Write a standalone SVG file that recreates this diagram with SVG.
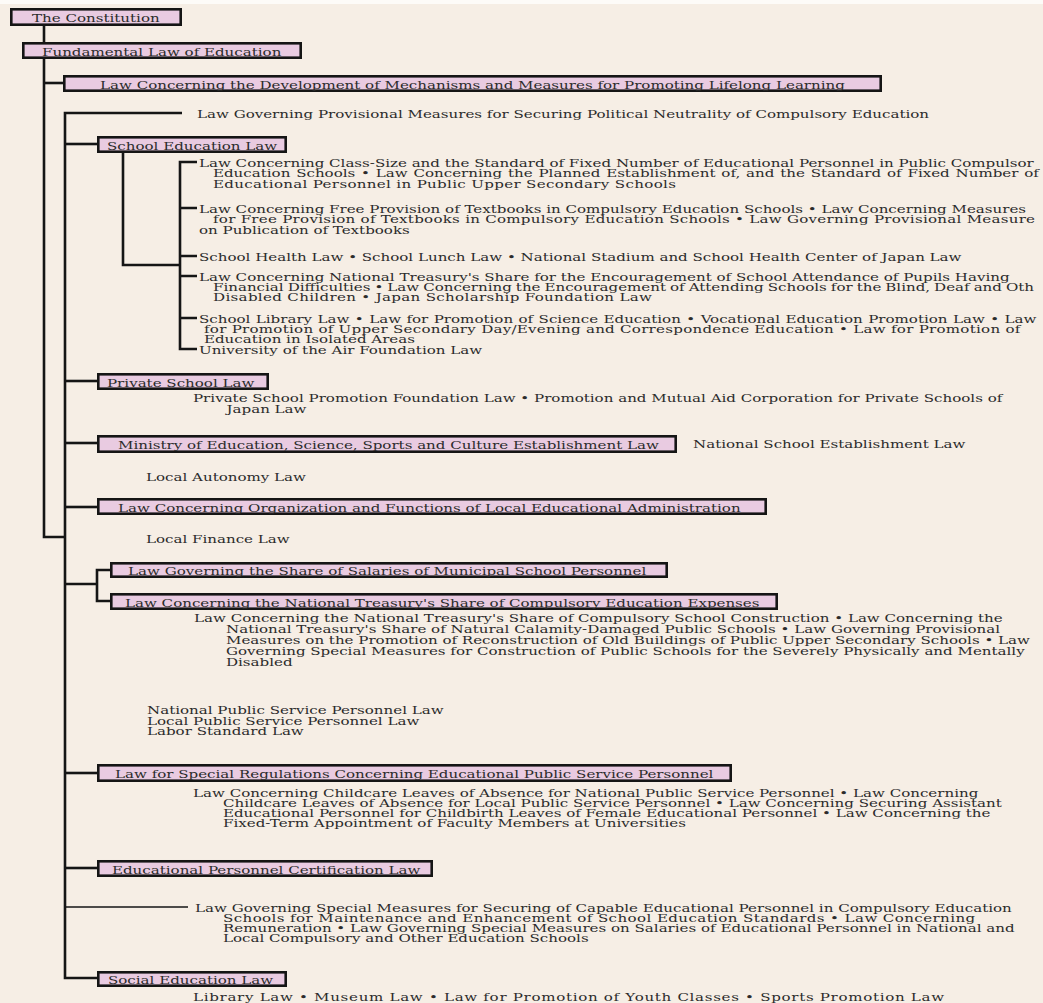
<svg xmlns="http://www.w3.org/2000/svg" width="1043" height="1003" viewBox="0 0 1043 1003">
  <style>
    .page { fill: #f6eee5; }
    .box { fill: #e9cbe1; stroke: #151515; stroke-width: 2.6; }
    .wire { fill: none; stroke: #151515; stroke-width: 2.6; }
    .thin { fill: none; stroke: #151515; stroke-width: 1.6; }
    text { font-family: "DejaVu Serif", "Liberation Serif", serif; font-size: 11.5px; fill: #2b2b2b;
           transform-box: fill-box; transform-origin: 0 50%; transform: scaleX(1.31); }
  </style>

  <!-- paper -->
  <rect x="0" y="0" width="1043" height="1003" fill="#fdfbf8"/>
  <rect class="page" x="0" y="4" width="1043" height="999"/>

  <!-- connectors -->
  <g id="connectors">
    <path class="wire" d="M44,26 V42"/>
    <path class="wire" d="M44,59 V537 H65"/>
    <path class="wire" d="M44,83 H63"/>
    <path class="wire" d="M182,113 H65 V978 H97"/>
    <path class="wire" d="M65,144 H97"/>
    <path class="wire" d="M123,153 V265 H180"/>
    <path class="wire" d="M197,162 H180 V349 H197"/>
    <path class="wire" d="M180,208 H197 M180,256 H197 M180,276 H197 M180,318 H197"/>
    <path class="wire" d="M65,381 H97"/>
    <path class="wire" d="M65,443 H97"/>
    <path class="wire" d="M65,507 H97"/>
    <path class="wire" d="M110,570 H97 V601 H110 M65,584 H97"/>
    <path class="wire" d="M65,773 H97"/>
    <path class="wire" d="M65,868 H97"/>
    <path class="thin" d="M65,907 H188"/>
  </g>

  <!-- law boxes -->
  <g id="constitution">
    <rect class="box" x="11.3" y="9.3" width="169.4" height="15.4"/>
    <text x="32" y="22">The Constitution</text>
  </g>
  <g id="fundamental-law">
    <rect class="box" x="23.3" y="43.3" width="277.4" height="14.4"/>
    <text x="42" y="56">Fundamental Law of Education</text>
  </g>
  <g id="lifelong-learning">
    <rect class="box" x="64.3" y="76.3" width="816.4" height="14.4"/>
    <text x="100" y="89">Law Concerning the Development of Mechanisms and Measures for Promoting Lifelong Learning</text>
  </g>
  <g id="political-neutrality">
    <text x="197" y="118">Law Governing Provisional Measures for Securing Political Neutrality of Compulsory Education</text>
  </g>
  <g id="school-education">
    <rect class="box" x="98.3" y="137.3" width="187.4" height="14.4"/>
    <text x="107" y="150">School Education Law</text>
  </g>
  <g id="school-education-related">
    <text x="199" y="167">Law Concerning Class-Size and the Standard of Fixed Number of Educational Personnel in Public Compulsor</text>
    <text x="213" y="177.5" style="word-spacing:0.8px">Education Schools • Law Concerning the Planned Establishment of, and the Standard of Fixed Number of</text>
    <text x="213" y="188" style="letter-spacing:0.25px">Educational Personnel in Public Upper Secondary Schools</text>
    <text x="199" y="213">Law Concerning Free Provision of Textbooks in Compulsory Education Schools • Law Concerning Measures</text>
    <text x="213" y="223.5" style="letter-spacing:0.2px">for Free Provision of Textbooks in Compulsory Education Schools • Law Governing Provisional Measure</text>
    <text x="199" y="234">on Publication of Textbooks</text>
    <text x="199" y="261">School Health Law • School Lunch Law • National Stadium and School Health Center of Japan Law</text>
    <text x="199" y="281">Law Concerning National Treasury's Share for the Encouragement of School Attendance of Pupils Having</text>
    <text x="213" y="291" style="word-spacing:-0.6px">Financial Difficulties • Law Concerning the Encouragement of Attending Schools for the Blind, Deaf and Oth</text>
    <text x="213" y="301" style="letter-spacing:0.25px">Disabled Children • Japan Scholarship Foundation Law</text>
    <text x="199" y="323" style="word-spacing:0.5px">School Library Law • Law for Promotion of Science Education • Vocational Education Promotion Law • Law</text>
    <text x="204" y="333" style="letter-spacing:0.2px">for Promotion of Upper Secondary Day/Evening and Correspondence Education • Law for Promotion of</text>
    <text x="204" y="343.5">Education in Isolated Areas</text>
    <text x="199" y="354">University of the Air Foundation Law</text>
  </g>
  <g id="private-school">
    <rect class="box" x="98.3" y="374.3" width="169.4" height="14.4"/>
    <text x="107" y="387">Private School Law</text>
    <text x="193" y="402">Private School Promotion Foundation Law • Promotion and Mutual Aid Corporation for Private Schools of</text>
    <text x="226" y="413">Japan Law</text>
  </g>
  <g id="ministry">
    <rect class="box" x="98.3" y="436.3" width="577.4" height="15.4"/>
    <text x="118" y="449">Ministry of Education, Science, Sports and Culture Establishment Law</text>
    <text x="693" y="448">National School Establishment Law</text>
  </g>
  <g id="local-autonomy">
    <text x="146" y="481">Local Autonomy Law</text>
  </g>
  <g id="local-administration">
    <rect class="box" x="98.3" y="499.3" width="667.4" height="14.4"/>
    <text x="118" y="512">Law Concerning Organization and Functions of Local Educational Administration</text>
  </g>
  <g id="local-finance">
    <text x="146" y="543">Local Finance Law</text>
  </g>
  <g id="municipal-salaries">
    <rect class="box" x="111.3" y="563.3" width="555.4" height="13.4"/>
    <text x="128" y="575">Law Governing the Share of Salaries of Municipal School Personnel</text>
  </g>
  <g id="compulsory-expenses">
    <rect class="box" x="111.3" y="594.3" width="665.4" height="14.4"/>
    <text x="125" y="607">Law Concerning the National Treasury's Share of Compulsory Education Expenses</text>
    <text x="194" y="622">Law Concerning the National Treasury's Share of Compulsory School Construction • Law Concerning the</text>
    <text x="226" y="633">National Treasury's Share of Natural Calamity-Damaged Public Schools • Law Governing Provisional</text>
    <text x="226" y="644">Measures on the Promotion of Reconstruction of Old Buildings of Public Upper Secondary Schools • Law</text>
    <text x="226" y="655">Governing Special Measures for Construction of Public Schools for the Severely Physically and Mentally</text>
    <text x="226" y="666">Disabled</text>
  </g>
  <g id="public-service">
    <text x="147" y="714">National Public Service Personnel Law</text>
    <text x="147" y="725">Local Public Service Personnel Law</text>
    <text x="147" y="735">Labor Standard Law</text>
  </g>
  <g id="special-regulations">
    <rect class="box" x="98.3" y="765.3" width="632.4" height="15.4"/>
    <text x="115" y="778">Law for Special Regulations Concerning Educational Public Service Personnel</text>
    <text x="193" y="797">Law Concerning Childcare Leaves of Absence for National Public Service Personnel • Law Concerning</text>
    <text x="223" y="807">Childcare Leaves of Absence for Local Public Service Personnel • Law Concerning Securing Assistant</text>
    <text x="223" y="817">Educational Personnel for Childbirth Leaves of Female Educational Personnel • Law Concerning the</text>
    <text x="223" y="827">Fixed-Term Appointment of Faculty Members at Universities</text>
  </g>
  <g id="certification">
    <rect class="box" x="98.3" y="861.3" width="333.4" height="14.4"/>
    <text x="112" y="874">Educational Personnel Certification Law</text>
  </g>
  <g id="capable-personnel">
    <text x="195" y="912">Law Governing Special Measures for Securing of Capable Educational Personnel in Compulsory Education</text>
    <text x="223" y="922" style="letter-spacing:0.31px">Schools for Maintenance and Enhancement of School Education Standards • Law Concerning</text>
    <text x="223" y="932">Remuneration • Law Governing Special Measures on Salaries of Educational Personnel in National and</text>
    <text x="223" y="942">Local Compulsory and Other Education Schools</text>
  </g>
  <g id="social-education">
    <rect class="box" x="98.3" y="972.3" width="187.4" height="13.4"/>
    <text x="108" y="984">Social Education Law</text>
    <text x="193" y="1001" style="letter-spacing:0.53px">Library Law • Museum Law • Law for Promotion of Youth Classes • Sports Promotion Law</text>
  </g>
</svg>
